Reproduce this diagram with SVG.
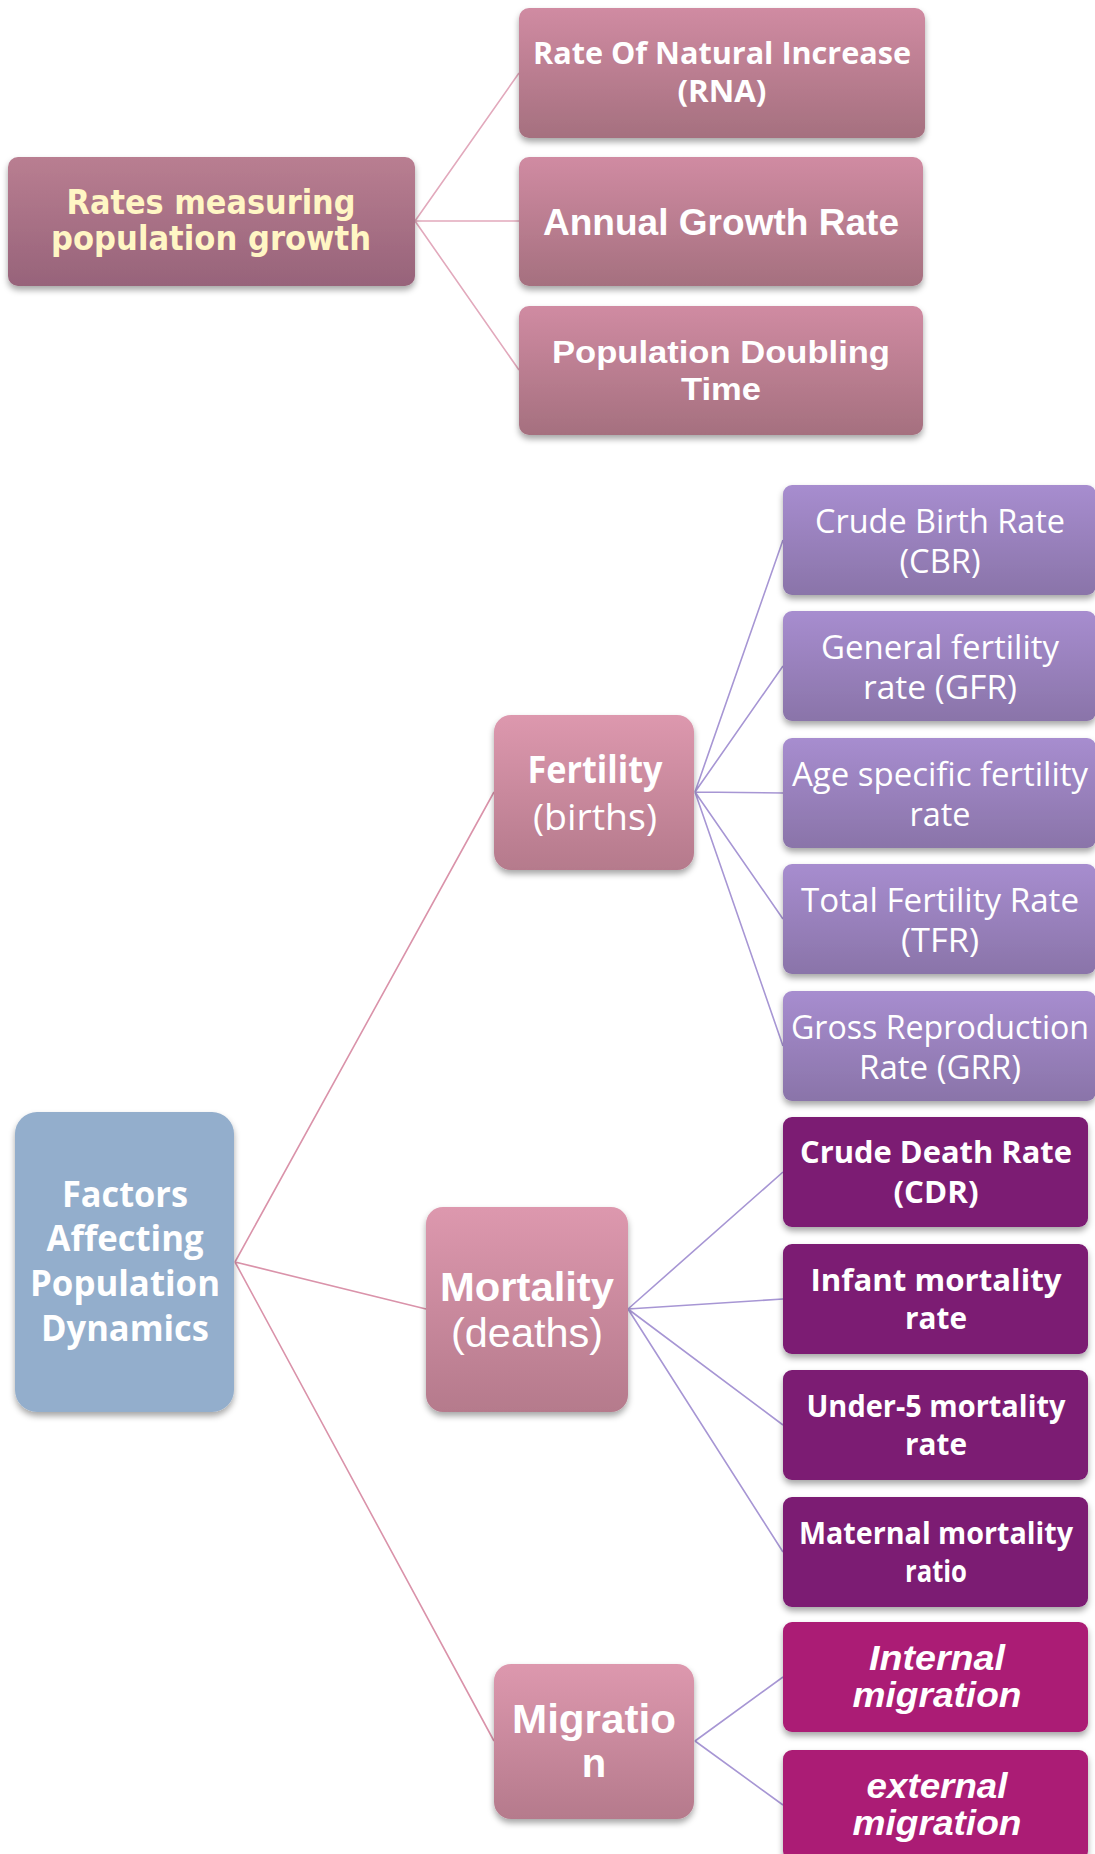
<svg xmlns="http://www.w3.org/2000/svg" width="1095" height="1854" viewBox="0 0 1095 1854">
<defs>
<linearGradient id="gRates" x1="0" y1="0" x2="0" y2="1"><stop offset="0" stop-color="#B97E91"/><stop offset="1" stop-color="#97637A"/></linearGradient>
<linearGradient id="gTop" x1="0" y1="0" x2="0" y2="1"><stop offset="0" stop-color="#D08BA2"/><stop offset="1" stop-color="#A5707F"/></linearGradient>
<linearGradient id="gMid" x1="0" y1="0" x2="0" y2="1"><stop offset="0" stop-color="#DD98AE"/><stop offset="1" stop-color="#B57A8C"/></linearGradient>
<linearGradient id="gPurple" x1="0" y1="0" x2="0" y2="1"><stop offset="0" stop-color="#A78DCF"/><stop offset="1" stop-color="#8A74A9"/></linearGradient>
<filter id="sh" x="-10%" y="-10%" width="120%" height="130%"><feDropShadow dx="0" dy="4" stdDeviation="3" flood-color="#000" flood-opacity="0.35"/></filter>
</defs>
<style>
.lnTop{stroke:#E2A9BC;stroke-width:1.6;fill:none}
.lnF{stroke:#DA93AA;stroke-width:1.6;fill:none}
.lnP{stroke:#A796D4;stroke-width:1.6;fill:none}
text{text-anchor:middle;fill:#fff}
.t-rates{font-family:"DejaVu Sans",sans-serif;font-weight:bold;font-size:33px;fill:#FFF6C4}
.t-cal{font-family:"Open Sans",sans-serif;font-weight:bold}
.t-calr{font-family:"Open Sans",sans-serif;font-weight:normal}
.t-ar{font-family:"Liberation Sans",Arial,sans-serif;font-weight:bold}
.t-arr{font-family:"Liberation Sans",Arial,sans-serif;font-weight:normal}
.t-ari{font-family:"Liberation Sans",Arial,sans-serif;font-weight:bold;font-style:italic;font-size:35px}
.box{filter:url(#sh)}
.purple{fill:url(#gPurple)}
.dark{fill:#7B1A73}
.mag{fill:#AB1F74}
.pt{font-size:32px}
.dt{font-size:31px}
</style>
<g id="connectors">
<path class="lnTop" d="M415,221 L519,73 M415,221 L519,221 M415,221 L519,370"/>
<path class="lnF" d="M235,1262 L494,792 M235,1262 L426,1309 M235,1262 L494,1741"/>
<path class="lnP" d="M695,792 L783,540 M695,792 L783,666 M695,792 L783,793 M695,792 L783,919 M695,792 L783,1046"/>
<path class="lnP" d="M628,1309 L783,1172 M628,1309 L783,1299 M628,1309 L783,1425 M628,1309 L783,1552"/>
<path class="lnP" d="M695,1741 L783,1677 M695,1741 L783,1805"/>
</g>
<g id="n_rates"><rect class="box" x="8" y="157" width="407" height="129" rx="10" fill="url(#gRates)"/>
<text class="t-rates" x="211" y="214" textLength="289" lengthAdjust="spacingAndGlyphs">Rates measuring</text>
<text class="t-rates" x="211" y="250" textLength="320" lengthAdjust="spacingAndGlyphs">population growth</text></g>
<g id="n_rni"><rect class="box" x="519" y="8" width="406" height="130" rx="10" fill="url(#gTop)"/>
<text class="t-cal" font-size="31" x="722" y="64" textLength="378" lengthAdjust="spacingAndGlyphs">Rate Of Natural Increase</text>
<text class="t-cal" font-size="31" x="722" y="102" textLength="89" lengthAdjust="spacingAndGlyphs">(RNA)</text></g>
<g id="n_agr"><rect class="box" x="519" y="157" width="404" height="129" rx="10" fill="url(#gTop)"/>
<text class="t-ar" font-size="37" x="721" y="235" textLength="356" lengthAdjust="spacingAndGlyphs">Annual Growth Rate</text></g>
<g id="n_pdt"><rect class="box" x="519" y="306" width="404" height="129" rx="10" fill="url(#gTop)"/>
<text class="t-ar" font-size="31" x="721" y="363" textLength="338" lengthAdjust="spacingAndGlyphs">Population Doubling</text>
<text class="t-ar" font-size="31" x="721" y="400" textLength="80" lengthAdjust="spacingAndGlyphs">Time</text></g>
<g id="n_factors"><rect class="box" x="15" y="1112" width="219" height="300" rx="22" fill="#93AECC"/>
<text class="t-cal" font-size="35" x="125" y="1207" textLength="126" lengthAdjust="spacingAndGlyphs">Factors</text>
<text class="t-cal" font-size="35" x="125" y="1251" textLength="157" lengthAdjust="spacingAndGlyphs">Affecting</text>
<text class="t-cal" font-size="35" x="125" y="1296" textLength="190" lengthAdjust="spacingAndGlyphs">Population</text>
<text class="t-cal" font-size="35" x="125" y="1341" textLength="168" lengthAdjust="spacingAndGlyphs">Dynamics</text></g>
<g id="n_fertility"><rect class="box" x="494" y="715" width="200" height="155" rx="17" fill="url(#gMid)"/>
<text class="t-cal" font-size="37" x="595" y="783" textLength="135" lengthAdjust="spacingAndGlyphs">Fertility</text>
<text class="t-calr" font-size="37" x="595" y="830" textLength="124" lengthAdjust="spacingAndGlyphs">(births)</text></g>
<g id="n_mortality"><rect class="box" x="426" y="1207" width="202" height="205" rx="17" fill="url(#gMid)"/>
<text class="t-ar" font-size="40" x="527" y="1301" textLength="174" lengthAdjust="spacingAndGlyphs">Mortality</text>
<text class="t-arr" font-size="40" x="527" y="1347" textLength="152" lengthAdjust="spacingAndGlyphs">(deaths)</text></g>
<g id="n_migration"><rect class="box" x="494" y="1664" width="200" height="155" rx="17" fill="url(#gMid)"/>
<text class="t-ar" font-size="40" x="594" y="1733" textLength="164" lengthAdjust="spacingAndGlyphs">Migratio</text>
<text class="t-ar" font-size="40" x="594" y="1777">n</text></g>
<g id="n_cbr"><rect class="box purple" x="783" y="485" width="313" height="110" rx="9"/>
<text class="t-calr pt" x="940" y="533" textLength="250" lengthAdjust="spacingAndGlyphs">Crude Birth Rate</text>
<text class="t-calr pt" x="940" y="573" textLength="81" lengthAdjust="spacingAndGlyphs">(CBR)</text></g>
<g id="n_gfr"><rect class="box purple" x="783" y="611" width="313" height="110" rx="9"/>
<text class="t-calr pt" x="940" y="659" textLength="238" lengthAdjust="spacingAndGlyphs">General fertility</text>
<text class="t-calr pt" x="940" y="699" textLength="154" lengthAdjust="spacingAndGlyphs">rate (GFR)</text></g>
<g id="n_asfr"><rect class="box purple" x="783" y="738" width="313" height="110" rx="9"/>
<text class="t-calr pt" x="940" y="786" textLength="296" lengthAdjust="spacingAndGlyphs">Age specific fertility</text>
<text class="t-calr pt" x="940" y="826" textLength="61" lengthAdjust="spacingAndGlyphs">rate</text></g>
<g id="n_tfr"><rect class="box purple" x="783" y="864" width="313" height="110" rx="9"/>
<text class="t-calr pt" x="940" y="912" textLength="278" lengthAdjust="spacingAndGlyphs">Total Fertility Rate</text>
<text class="t-calr pt" x="940" y="952" textLength="78" lengthAdjust="spacingAndGlyphs">(TFR)</text></g>
<g id="n_grr"><rect class="box purple" x="783" y="991" width="313" height="110" rx="9"/>
<text class="t-calr pt" x="940" y="1039" textLength="298" lengthAdjust="spacingAndGlyphs">Gross Reproduction</text>
<text class="t-calr pt" x="940" y="1079" textLength="162" lengthAdjust="spacingAndGlyphs">Rate (GRR)</text></g>
<g id="n_cdr"><rect class="box dark" x="783" y="1117" width="305" height="110" rx="9"/>
<text class="t-cal dt" x="936" y="1163" textLength="272" lengthAdjust="spacingAndGlyphs">Crude Death Rate</text>
<text class="t-cal dt" x="936" y="1203" textLength="85" lengthAdjust="spacingAndGlyphs">(CDR)</text></g>
<g id="n_imr"><rect class="box dark" x="783" y="1244" width="305" height="110" rx="9"/>
<text class="t-cal dt" x="936" y="1291" textLength="251" lengthAdjust="spacingAndGlyphs">Infant mortality</text>
<text class="t-cal dt" x="936" y="1329" textLength="62" lengthAdjust="spacingAndGlyphs">rate</text></g>
<g id="n_u5"><rect class="box dark" x="783" y="1370" width="305" height="110" rx="9"/>
<text class="t-cal dt" x="936" y="1417" textLength="259" lengthAdjust="spacingAndGlyphs">Under-5 mortality</text>
<text class="t-cal dt" x="936" y="1455" textLength="62" lengthAdjust="spacingAndGlyphs">rate</text></g>
<g id="n_mmr"><rect class="box dark" x="783" y="1497" width="305" height="110" rx="9"/>
<text class="t-cal dt" x="936" y="1544" textLength="274" lengthAdjust="spacingAndGlyphs">Maternal mortality</text>
<text class="t-cal dt" x="936" y="1582" textLength="62" lengthAdjust="spacingAndGlyphs">ratio</text></g>
<g id="n_internal"><rect class="box mag" x="783" y="1622" width="305" height="110" rx="9"/>
<text class="t-ari" x="937" y="1670" textLength="136" lengthAdjust="spacingAndGlyphs">Internal</text>
<text class="t-ari" x="937" y="1707" textLength="169" lengthAdjust="spacingAndGlyphs">migration</text></g>
<g id="n_external"><rect class="box mag" x="783" y="1750" width="305" height="110" rx="9"/>
<text class="t-ari" x="937" y="1798" textLength="141" lengthAdjust="spacingAndGlyphs">external</text>
<text class="t-ari" x="937" y="1835" textLength="169" lengthAdjust="spacingAndGlyphs">migration</text></g>
</svg>
